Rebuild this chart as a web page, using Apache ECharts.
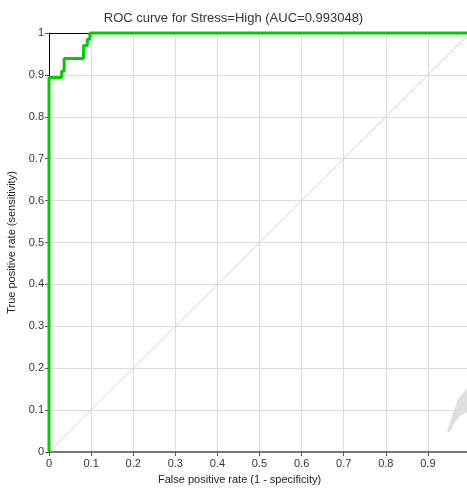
<!DOCTYPE html>
<html>
<head>
<meta charset="utf-8">
<script src="https://cdn.jsdelivr.net/npm/echarts@6/dist/echarts.min.js"></script>
<style>
  html, body { margin: 0; padding: 0; background: #fff; }
  #chart { width: 467px; height: 488px; }
</style>
</head>
<body>
<div id="chart"></div>
<script>
// ROC corner points (false positive rate, true positive rate)
const rocFpr = [0, 0, 0.030, 0.030, 0.036, 0.036, 0.082, 0.082, 0.091, 0.091, 0.097, 0.097, 1];
const rocTpr = [0, 0.894, 0.894, 0.909, 0.909, 0.939, 0.939, 0.970, 0.970, 0.985, 0.985, 1, 1];
const diagonal = [[0, 0], [1, 1]];
const tickLabels = ["0", "0.1", "0.2", "0.3", "0.4", "0.5", "0.6", "0.7", "0.8", "0.9", "1"];

const FONT = "Liberation Sans, Arial, sans-serif";
const fmt = (v) => tickLabels[Math.round(v * 10)];
// the right end of the x axis is cut off by the frame, so its "1" is not shown
const fmtX = (v) => (v >= 1 ? "" : fmt(v));

const chart = echarts.init(document.getElementById("chart"), null, { renderer: "canvas" });
chart.setOption({
  animation: false,
  backgroundColor: "#fff",
  title: {
    text: "ROC curve for Stress=High (AUC=0.993048)",
    left: "center",
    top: 7,
    textStyle: { fontFamily: FONT, fontSize: 13, fontWeight: "normal", color: "#333" }
  },
  grid: { left: 49, top: 33, right: -3, bottom: 36, outerBoundsMode: "none", containLabel: false },
  xAxis: [
    {
      type: "value",
      min: 0,
      max: 1,
      interval: 0.1,
      axisLine: { lineStyle: { color: "#777", width: 2 } },
      axisTick: { show: true, length: 4, lineStyle: { color: "#555" } },
      axisLabel: { formatter: fmtX, color: "#333", fontFamily: FONT, fontSize: 11, margin: 6 },
      splitLine: { lineStyle: { color: "#dcdcdc", width: 1 } }
    },
    {
      type: "value",
      position: "top",
      min: 0,
      max: 1,
      axisLine: { show: true, lineStyle: { color: "#000", width: 1 } },
      axisTick: { show: false },
      axisLabel: { show: false },
      splitLine: { show: false }
    }
  ],
  yAxis: {
    type: "value",
    min: 0,
    max: 1,
    interval: 0.1,
    name: "True positive rate (sensitivity)",
    nameLocation: "middle",
    nameGap: 29,
    nameTextStyle: { color: "#222", fontFamily: FONT, fontSize: 11 },
    axisLine: { show: true, lineStyle: { color: "#000", width: 1 } },
    axisTick: { show: true, length: 4, lineStyle: { color: "#555" } },
    axisLabel: { formatter: fmt, color: "#333", fontFamily: FONT, fontSize: 11, margin: 5 },
    splitLine: { lineStyle: { color: "#dcdcdc", width: 1 } }
  },
  graphic: [
    {
      type: "text",
      left: 158,
      top: 474,
      style: { text: "False positive rate (1 - specificity)", fill: "#222", font: "11px " + FONT }
    },
    {
      type: "polygon",
      silent: true,
      shape: { points: [[447, 432], [452, 416], [458, 399], [467, 388], [467, 412], [460, 416], [455, 422], [450, 432]] },
      style: { fill: "#dedede" }
    }
  ],
  series: [
    {
      type: "line",
      data: diagonal,
      showSymbol: false,
      lineStyle: { color: "#d0d0d0", width: 1 },
      z: 1
    },
    {
      type: "line",
      xAxisIndex: 0,
      data: rocFpr.map((x, i) => [x, rocTpr[i]]),
      showSymbol: false,
      clip: false,
      lineStyle: { color: "#00cc00", width: 3 },
      z: 3
    }
  ]
});
</script>
</body>
</html>
